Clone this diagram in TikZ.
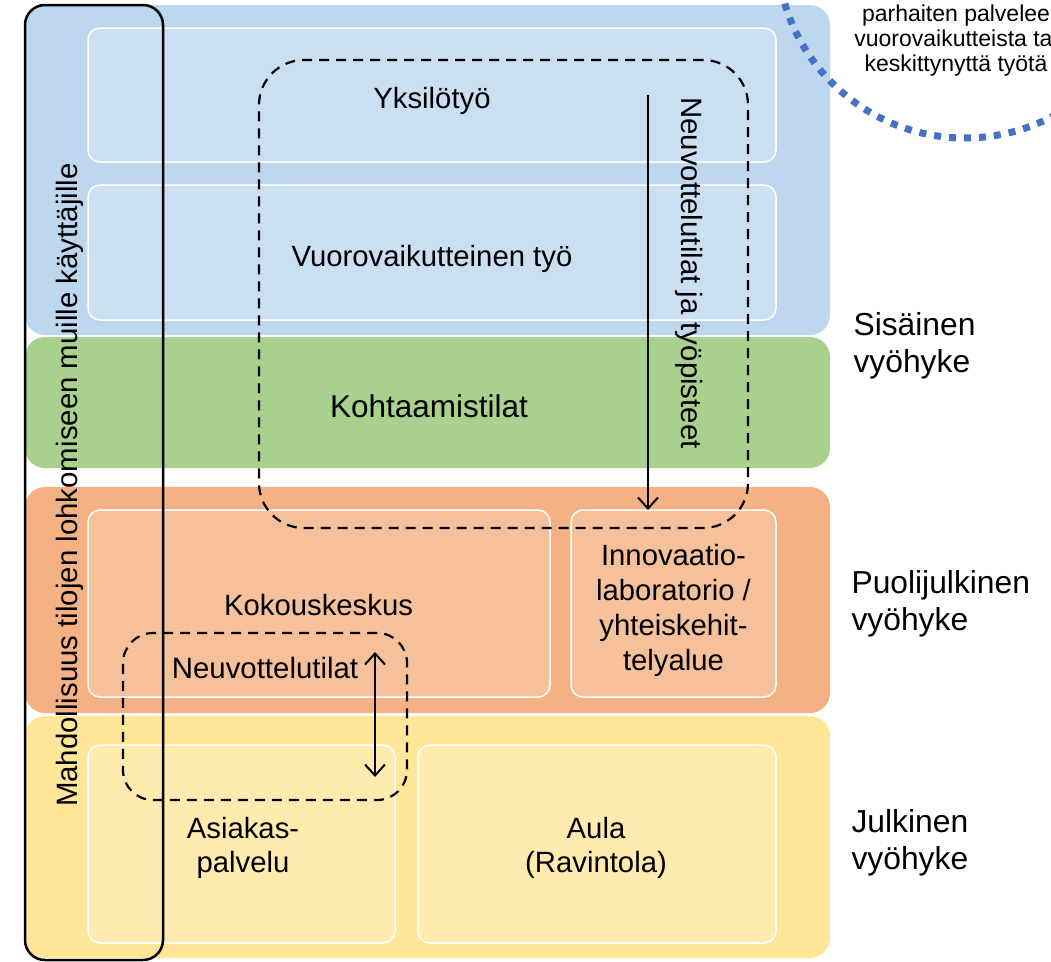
\documentclass[tikz,border=0pt]{standalone}
\usepackage{fontspec}
\setmainfont{Liberation Sans}
\usepackage{tikz}
\usetikzlibrary{arrows}
\usetikzlibrary{arrows.meta}
\usetikzlibrary{positioning}
\definecolor{zoneBlue}{RGB}{189,215,238}
\definecolor{zoneGreen}{RGB}{169,209,142}
\definecolor{zoneOrange}{RGB}{244,177,131}
\definecolor{zoneYellow}{RGB}{255,230,153}
\definecolor{dotBlue}{RGB}{68,114,196}
\tikzstyle{zone} = [rectangle, rounded corners=20pt, inner sep=0pt, outer sep=0pt]
\tikzstyle{room} = [rectangle, rounded corners=12pt, draw=white, line width=1.5pt,
        fill=white, fill opacity=0.2, inner sep=0pt, outer sep=0pt]
\tikzstyle{roomtext} = [align=center, font={\fontsize{29.3}{35}\selectfont}]
\tikzstyle{dashgroup} = [rectangle, draw, dash pattern=on 10pt off 7pt, line width=2.2pt,
        inner sep=0pt, outer sep=0pt]
\tikzstyle{zonelabel} = [anchor=west, align=left, font={\fontsize{31.8}{37}\selectfont}]
\tikzstyle{sidetext} = [font={\fontsize{29.4}{34}\selectfont}]

\begin{document}
\begin{tikzpicture}[x=1pt, y=-1pt, >={Straight Barb[length=11pt, width=20pt, line width=2pt]}]
                \useasboundingbox (0,0) rectangle (1051,961);
                \clip (0,0) rectangle (1051,961);
                % vyohykkeet
                \node [zone, fill=zoneBlue, minimum width=805pt, minimum height=330pt] (sisainen) at (427.5,170) {};
                \node [zone, fill=zoneGreen, minimum width=805pt, minimum height=131pt] (kohtaamis) at (427.5,402.5) {};
                \node [zone, fill=zoneOrange, minimum width=805pt, minimum height=226pt] (puolijulk) at (427.5,600) {};
                \node [zone, fill=zoneYellow, minimum width=805pt, minimum height=242pt] (julkinen) at (427.5,837) {};
                \node [font={\fontsize{31.5}{36}\selectfont}] (kohtaamisteksti) at (429,406) {Kohtaamistilat};
                % tilat
                \node [room, minimum width=688pt, minimum height=134pt] (yksilo) at (432,95) {};
                \node [room, minimum width=688pt, minimum height=135pt] (vuoro) at (432,252.5) {};
                \node [room, minimum width=462pt, minimum height=187pt] (kokous) at (319,603.5) {};
                \node [room, minimum width=205pt, minimum height=187pt] (innovaatio) at (673.5,603.5) {};
                \node [room, minimum width=307pt, minimum height=198pt] (asiakas) at (241.5,844) {};
                \node [room, minimum width=358pt, minimum height=198pt] (aula) at (597,844) {};
                \node [roomtext] (yksiloteksti) at (432,101) {Yksilötyö};
                \node [roomtext] (vuoroteksti) at (432,258.5) {Vuorovaikutteinen työ};
                \node [roomtext] (kokousteksti) at (318.5,605.5) {Kokouskeskus};
                \node [roomtext] (innovaatioteksti) at (673.5,610) {Innovaatio-\\laboratorio /\\yhteiskehit-\\telyalue};
                \node [roomtext, font={\fontsize{29.3}{34}\selectfont}] (asiakasteksti) at (243,848) {Asiakas-\\palvelu};
                \node [roomtext, font={\fontsize{29.3}{34}\selectfont}] (aulateksti) at (596,848) {Aula\\(Ravintola)};
                % lohkominen
                \node [rectangle, draw, line width=2.5pt, rounded corners=20pt, inner sep=0pt,
                    minimum width=138pt, minimum height=955pt] (lohko) at (94,482.5) {};
                \node [sidetext, rotate=90] (lohkoteksti) at (70,485) {Mahdollisuus tilojen lohkomiseen muille käyttäjille};
                % neuvottelutilat
                \node [dashgroup, rounded corners=45pt, minimum width=489pt, minimum height=468pt] (isoryhma) at (503.5,294) {};
                \node [dashgroup, rounded corners=30pt, minimum width=284pt, minimum height=167pt] (pieniryhma) at (265,716.5) {};
                \node [sidetext] (neuvottelu) at (265,668) {Neuvottelutilat};
                \node [sidetext, rotate=-90] (neuvotteluteksti) at (689,273) {Neuvottelutilat ja työpisteet};
                \coordinate (neuvtop) at (648,95);
                \coordinate (vaihtoA) at (375,652);
                \coordinate (vaihtoB) at (375,777);
                \draw [->, line width=2pt] (neuvtop) -- (neuvtop |- innovaatio.north);
                \draw [<->, line width=2pt] (vaihtoA) -- (vaihtoB);
                % vyohykkeiden nimet
                \node [zonelabel] (sisalabel) at (850,346) {Sisäinen\\vyöhyke};
                \node [zonelabel] (puolilabel) at (848,603.5) {Puolijulkinen\\vyöhyke};
                \node [zonelabel] (julklabel) at (848,843) {Julkinen\\vyöhyke};
                % huomautus
                \node [align=center, font={\fontsize{23}{25}\selectfont}] (huomio) at (956,41) {parhaiten palvelee\\vuorovaikutteista tai\\keskittynyttä työtä};
                \draw [dotBlue, line width=7pt, dash pattern=on 7pt off 8pt] (965,-50) circle (188pt);
            \end{tikzpicture}
\end{document}
